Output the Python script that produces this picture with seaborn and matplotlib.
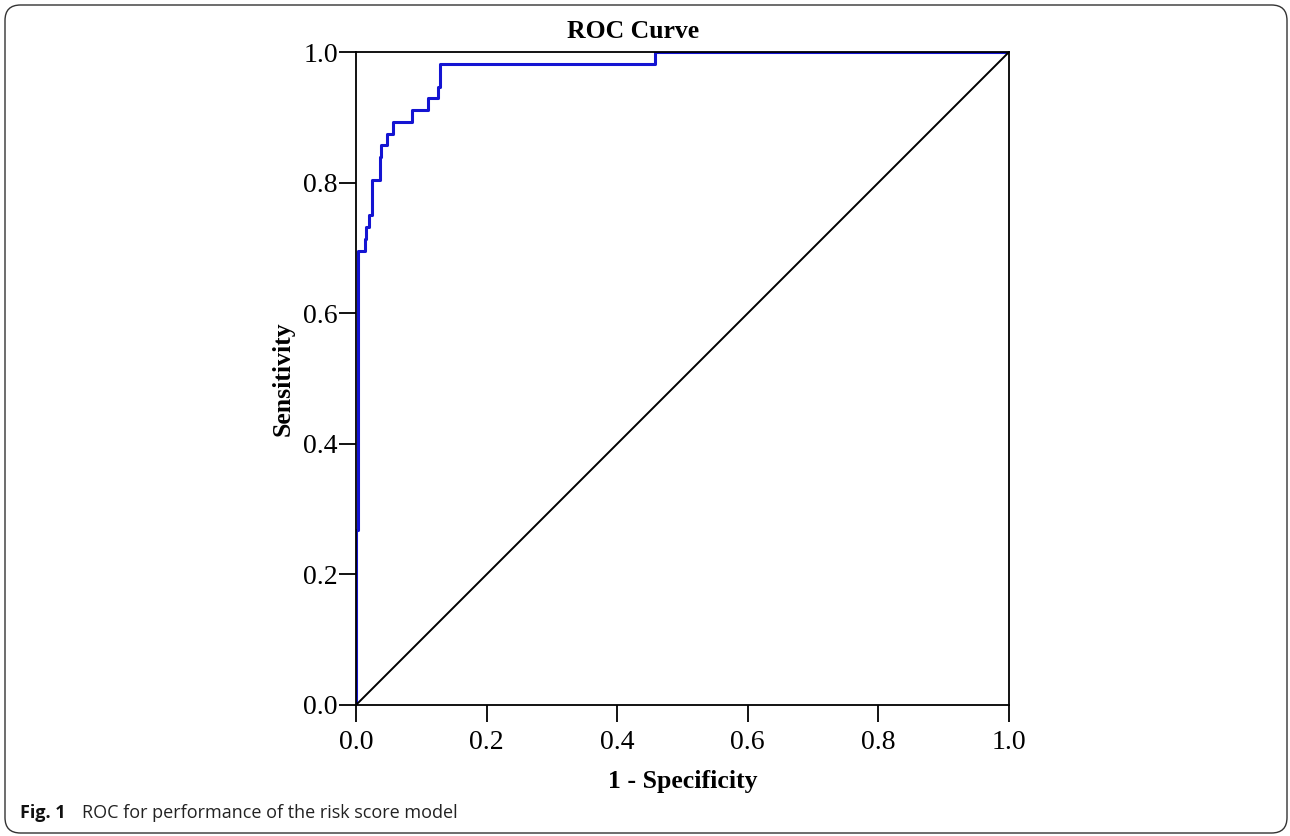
import matplotlib
matplotlib.use('Agg')
import pandas as pd
import matplotlib.pyplot as plt
from matplotlib.patches import FancyBboxPatch
import seaborn as sns

# corner points of the ROC step curve
fpr = [0.0, 0.0, 0.003, 0.003, 0.014, 0.014, 0.016, 0.016, 0.020, 0.020,
       0.025, 0.025, 0.036, 0.036, 0.038, 0.038, 0.048, 0.048, 0.056, 0.056,
       0.085, 0.085, 0.110, 0.110, 0.126, 0.126, 0.128, 0.128, 0.458, 0.458, 1.0]
tpr = [0.0, 0.268, 0.268, 0.696, 0.696, 0.714, 0.714, 0.732, 0.732, 0.750,
       0.750, 0.804, 0.804, 0.839, 0.839, 0.857, 0.857, 0.875, 0.875, 0.893,
       0.893, 0.911, 0.911, 0.929, 0.929, 0.946, 0.946, 0.982, 0.982, 1.0, 1.0]
referenz = [0.0, 1.0]
ticks = [0.0, 0.2, 0.4, 0.6, 0.8, 1.0]
tick_labels = ['0.0', '0.2', '0.4', '0.6', '0.8', '1.0']

sns.set_theme(style='ticks')
plt.rcParams['font.family'] = ['Liberation Serif', 'DejaVu Serif']

fig = plt.figure(figsize=(12.9, 8.36), dpi=100)
ax = fig.add_axes([356 / 1290, 1 - 705 / 836, 653 / 1290, 653 / 836])

roc = pd.DataFrame({'fpr': fpr, 'tpr': tpr})
sns.lineplot(data=roc, x='fpr', y='tpr', sort=False, estimator=None,
             color='#1414d2', linewidth=2.2, ax=ax)
sns.lineplot(x=referenz, y=referenz, color='black', linewidth=1.4, ax=ax)

ax.set_xlim(0, 1)
ax.set_ylim(0, 1)
ax.set_xticks(ticks)
ax.set_xticklabels(tick_labels)
ax.set_yticks(ticks)
ax.set_yticklabels(tick_labels)
ax.tick_params(axis='both', direction='out', length=12, width=1.3, color='black',
               labelsize=20, labelcolor='black', pad=1)
ax.tick_params(axis='x', pad=6)
for spine in ax.spines.values():
    spine.set_color('black')
    spine.set_linewidth(1.3)
    spine.set_visible(True)

ax.set_xlabel('1 - Specificity', fontsize=18.5, fontweight='bold', color='black', labelpad=11)
ax.set_ylabel('Sensitivity', fontsize=18.5, fontweight='bold', color='black', labelpad=6)
fig.text(633 / 1290, 1 - 32 / 836, 'ROC Curve', fontsize=18.5, fontweight='bold',
         ha='center', va='center', color='black')

# caption and frame
fig.text(20 / 1290, 1 - 813 / 836, 'Fig. 1', fontsize=13, fontweight='bold',
         family=['Open Sans', 'DejaVu Sans'], ha='left', va='center', color='#111111')
fig.text(82 / 1290, 1 - 813 / 836, 'ROC for performance of the risk score model', fontsize=13,
         family=['Open Sans', 'DejaVu Sans'], ha='left', va='center', color='#222222')
rahmen = FancyBboxPatch((5 / 1290, 3 / 836), 1282 / 1290, 828 / 836,
                        boxstyle='round,pad=0,rounding_size=0.012',
                        transform=fig.transFigure, fill=False, edgecolor='#333333',
                        linewidth=1.0, mutation_aspect=1290 / 836)
fig.patches.append(rahmen)

fig.savefig('out.png', dpi=100)
